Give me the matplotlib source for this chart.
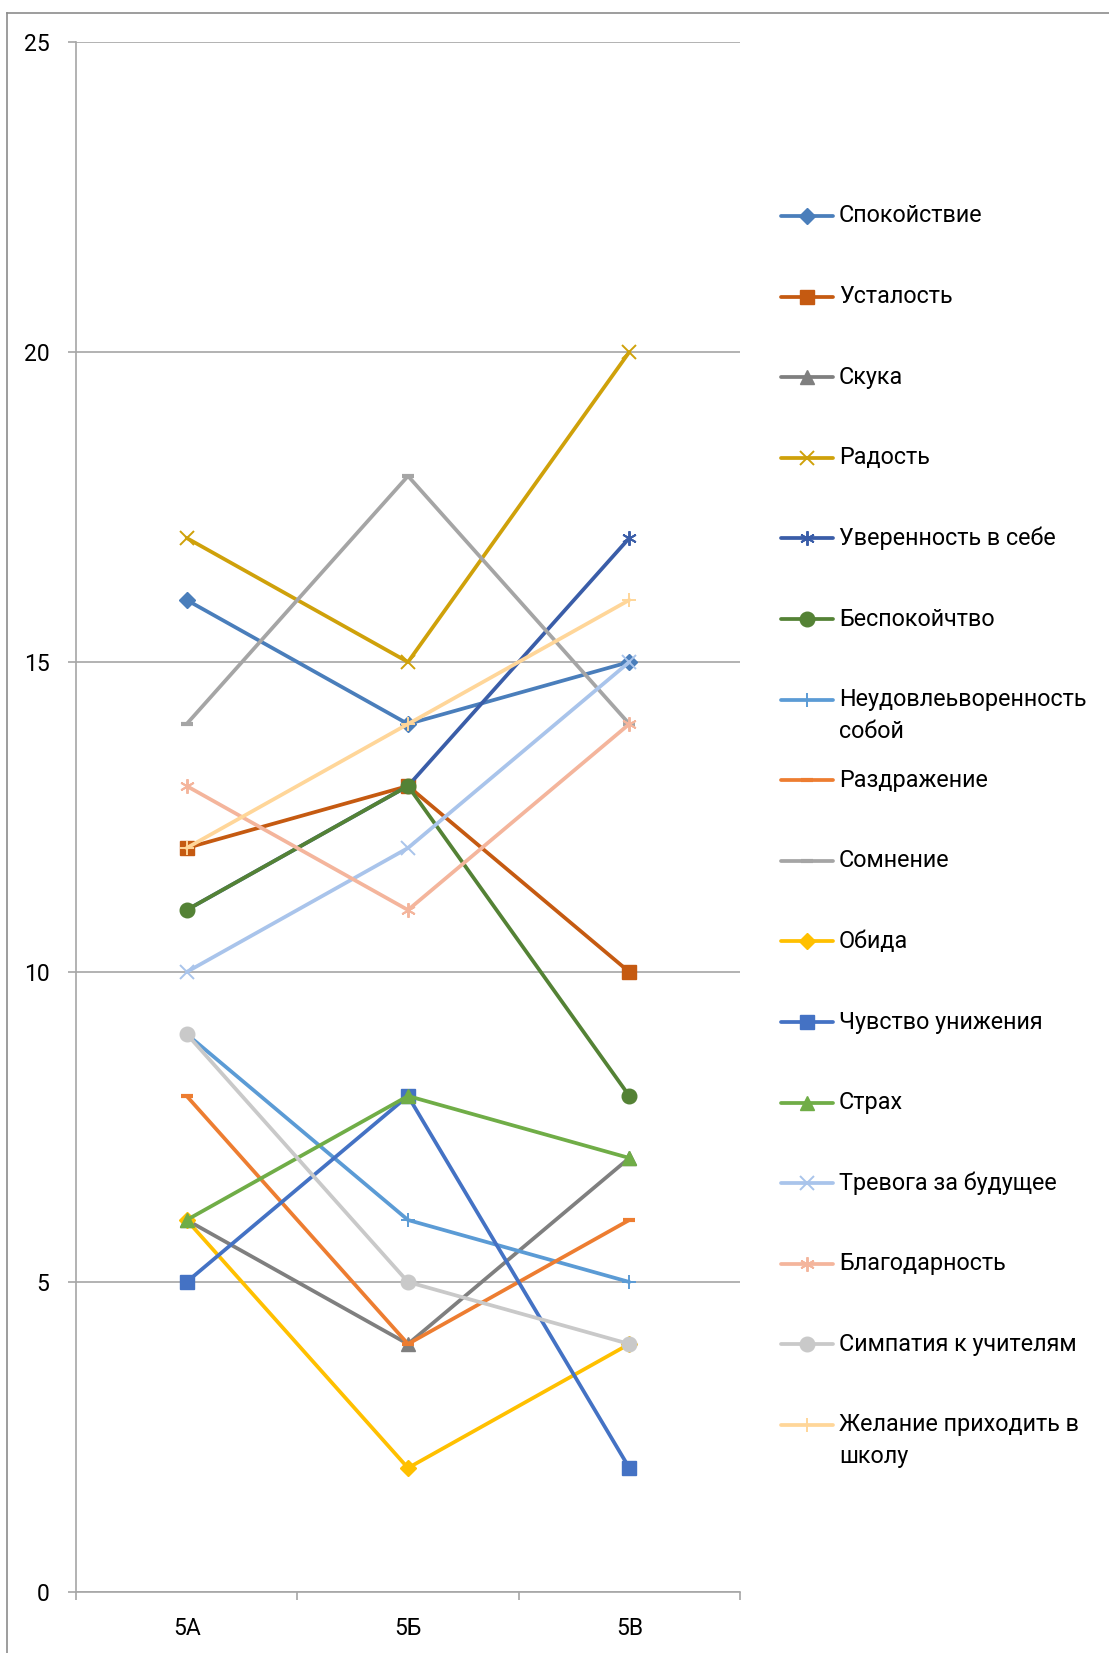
import numpy as np
import matplotlib
matplotlib.use("Agg")
import matplotlib.pyplot as plt
from matplotlib.lines import Line2D

plt.rcParams['font.family'] = ['Roboto', 'DejaVu Sans']

classes = ['5А', '5Б', '5В']

labels = ['Спокойствие', 'Усталость', 'Скука', 'Радость', 'Уверенность в себе',
          'Беспокойчтво', 'Неудовлеьворенность\nсобой', 'Раздражение', 'Сомнение',
          'Обида', 'Чувство унижения', 'Страх', 'Тревога за будущее',
          'Благодарность', 'Симпатия к учителям', 'Желание приходить в\nшколу']

spokoystvie = [16, 14, 15]
ustalost = [12, 13, 10]
skuka = [6, 4, 7]
radost = [17, 15, 20]
uverennost = [11, 13, 17]
bespokoystvo = [11, 13, 8]
neudovl = [9, 6, 5]
razdrazhenie = [8, 4, 6]
somnenie = [14, 18, 14]
obida = [6, 2, 4]
unizhenie = [5, 8, 2]
strah = [6, 8, 7]
trevoga = [10, 12, 15]
blagodarnost = [13, 11, 14]
simpatiya = [9, 5, 4]
zhelanie = [12, 14, 16]

series = [spokoystvie, ustalost, skuka, radost, uverennost, bespokoystvo,
          neudovl, razdrazhenie, somnenie, obida, unizhenie, strah,
          trevoga, blagodarnost, simpatiya, zhelanie]

colors = ['#4A7EBB', '#C55A11', '#7F7F7F', '#CFA10A', '#3A5DA8', '#548235',
          '#5B9BD5', '#ED7D31', '#A5A5A5', '#FFC000', '#4472C4', '#70AD47',
          '#A9C4EB', '#F4B59C', '#C9C9C9', '#FFD699']
star = (6, 2, 0)
markers = ['D', 's', '^', 'x', star, 'o', '+', '_', '_', 'D', 's', '^',
           'x', star, 'o', '+']
msizes = [8, 9.5, 10.5, 10.5, 10.5, 10.5, 10.5, 9, 9, 8, 9.5, 10.5, 10.5, 10.5, 10.5, 10.5]


def mwidth(m):
    if m == '_':
        return 3
    if m in ('x', '+', star):
        return 1.4
    return 1


W, H = 1109, 1653
fig = plt.figure(figsize=(W / 100, H / 100), dpi=100)
ax = fig.add_axes([76 / W, 1 - 1592 / H, 664 / W, 1550 / H])

x = np.arange(len(classes))
for vals, c, m, ms in zip(series, colors, markers, msizes):
    ax.plot(x, vals, color=c, lw=2.7, marker=m, ms=ms, mew=mwidth(m),
            mfc=c, mec=c, solid_capstyle='round', zorder=3)

ax.set_xlim(-0.5, 2.5)
ax.set_ylim(0, 25)
ax.set_yticks(range(0, 26, 5))
ax.set_xticks(x)
ax.set_xticklabels(classes)
ax.set_xticks([-0.5, 0.5, 1.5, 2.5], minor=True)
ax.tick_params(axis='x', which='major', length=0, pad=18, labelsize=16.5)
ax.tick_params(axis='x', which='minor', length=6, color='#A6A6A6', width=1.2)
ax.tick_params(axis='y', length=6, color='#A6A6A6', width=1.2, pad=13, labelsize=16.5)
ax.grid(axis='y', color='#A6A6A6', lw=1.2, zorder=0)
for s in ['top', 'right']:
    ax.spines[s].set_visible(False)
for s in ['left', 'bottom']:
    ax.spines[s].set_color('#A6A6A6')
    ax.spines[s].set_linewidth(1.2)

# legend drawn by hand to keep Excel spacing
y0, step = 216, 80.6
for i, (lab, c, m, ms) in enumerate(zip(labels, colors, markers, msizes)):
    yy = 1 - (y0 + i * step) / H
    fig.add_artist(Line2D([781 / W, 833 / W], [yy, yy], transform=fig.transFigure,
                          color=c, lw=2.7, solid_capstyle='round'))
    fig.add_artist(Line2D([807 / W], [yy], transform=fig.transFigure,
                          color=c, marker=m, ms=ms, mew=mwidth(m), mfc=c, mec=c, lw=0))
    for k, part in enumerate(lab.split('\n')):
        fig.text(839 / W, yy - k * 32 / H, part, fontsize=16.8, va='center', ha='left')

# chart frame (cropped at right and bottom)
fig.add_artist(Line2D([7 / W, 1], [1 - 13 / H, 1 - 13 / H], transform=fig.transFigure,
                      color='#8C8C8C', lw=1.2))
fig.add_artist(Line2D([7 / W, 7 / W], [0, 1 - 13 / H], transform=fig.transFigure,
                      color='#8C8C8C', lw=1.2))

fig.savefig('out.png', dpi=100)
